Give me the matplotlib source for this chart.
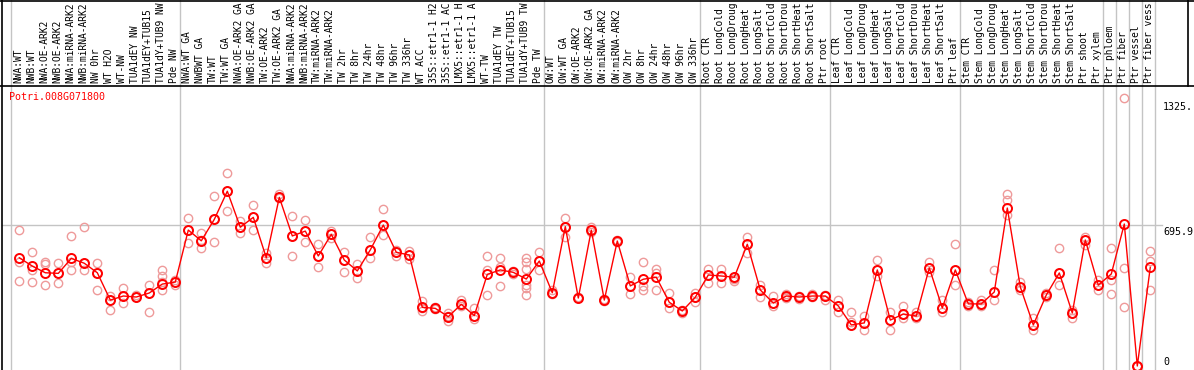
import matplotlib
matplotlib.use("Agg")
import matplotlib.pyplot as plt
from matplotlib.lines import Line2D

GENE = "Potri.008G071800"

# header text as far as it is visible in the original (cut at 14 chars)
LABELS = [
    "NWA:WT", "NWB:WT", "NWA:OE-ARK2", "NWB:OE-ARK2", "NWA:miRNA-ARK2",
    "NWB:miRNA-ARK2", "NW 0hr", "WT H2O", "WT-NW", "TUA1dEY NW",
    "TUA1dEY+TUB15", "TUA1dY+TUB9 NW", "Pde NW",
    "NWA:WT GA", "NWBWT GA", "TW:WT", "TW:WT GA", "NWA:OE-ARK2 GA",
    "NWB:OE-ARK2 GA", "TW:OE-ARK2", "TW:OE-ARK2 GA", "NWA:miRNA-ARK2",
    "NWB:miRNA-ARK2", "TW:miRNA-ARK2", "TW:miRNA-ARK2", "TW 2hr", "TW 8hr",
    "TW 24hr", "TW 48hr", "TW 96hr", "TW 336hr", "WT ACC",
    "35S::etr1-1 H2", "35S::etr1-1 AC", "LMX5::etr1-1 H",
    "LMX5::etr1-1 A", "WT-TW", "TUA1dEY TW", "TUA1dEY+TUB15",
    "TUA1dY+TUB9 TW", "Pde TW",
    "OW:WT", "OW:WT GA", "OW:OE-ARK2", "OW:OE-ARK2 GA", "OW:miRNA-ARK2",
    "OW:miRNA-ARK2", "OW 2hr", "OW 8hr", "OW 24hr", "OW 48hr", "OW 96hr",
    "OW 336hr",
    "Root CTR", "Root LongCold", "Root LongDroug", "Root LongHeat",
    "Root LongSalt", "Root ShortCold", "Root ShortDrou", "Root ShortHeat",
    "Root ShortSalt", "Ptr root",
    "Leaf CTR", "Leaf LongCold", "Leaf LongDroug", "Leaf LongHeat",
    "Leaf LongSalt", "Leaf ShortCold", "Leaf ShortDrou", "Leaf ShortHeat",
    "Leaf ShortSalt", "Ptr leaf",
    "Stem CTR", "Stem LongCold", "Stem LongDroug", "Stem LongHeat",
    "Stem LongSalt", "Stem ShortCold", "Stem ShortDrou", "Stem ShortHeat",
    "Stem ShortSalt", "Ptr shoot", "Ptr xylem",
    "Ptr phloem", "Ptr fiber", "Ptr vessel", "Ptr fiber vess",
]

# first sample index (1-based) of every group, plus one past the end
GROUP_STARTS = [1, 14, 42, 54, 64, 74, 85, 86, 87, 88, 89]

MEANS = [
    535, 494, 461, 458, 532, 508, 461, 326, 346, 341, 361, 405, 415,
    672, 619, 725, 864, 686, 735, 535, 834, 643, 667, 544, 651, 524, 470,
    574, 697, 562, 549, 290, 285, 244, 305, 249, 453, 475, 463, 430, 519,
    362, 689, 336, 672, 326, 618, 396, 429, 439, 315, 272, 340,
    450, 445, 439, 602, 376, 311, 346, 341, 346, 346,
    297, 203, 213, 475, 227, 257, 247, 485, 287, 475,
    307, 307, 366, 781, 391, 203, 351, 460, 262, 623, 400,
    455, 702, 0, 488,
]

REPLICATES = [
    [672, 516, 420], [564, 475, 415], [516, 504, 400], [508, 410, 460],
    [644, 475, 514], [689, 475, 509], [508, 376, 460], [346, 277, 326],
    [386, 346, 311], [341, 341, 351], [267, 400, 361], [475, 445, 415, 376],
    [425, 400, 415],
    [730, 607, 672], [656, 582, 623], [840, 615, 727], [953, 768, 865],
    [718, 656, 687], [796, 672, 737], [560, 508, 534], [849, 837, 831],
    [742, 544, 643], [722, 612, 667], [603, 491, 544], [667, 631, 653],
    [565, 466, 524], [504, 434, 470], [636, 532, 574], [776, 648, 697],
    [574, 544, 564], [570, 528, 549], [321, 272, 287], [290, 280, 287],
    [261, 224, 247], [326, 297, 307], [285, 232, 247], [544, 475, 351],
    [532, 491, 396], [470, 453, 465], [532, 516, 478, 400, 384, 351],
    [565, 475, 519],
    [376, 354, 361], [730, 636, 687], [336, 336, 341], [686, 672, 663],
    [326, 331, 321], [618, 623, 613], [439, 354, 396], [513, 396, 376],
    [478, 461, 376], [359, 285, 316], [277, 261, 272], [362, 318, 341],
    [478, 409, 450], [478, 412, 445], [429, 422, 440], [636, 557, 603],
    [400, 343, 376], [346, 311, 297], [356, 341, 336], [346, 331, 341],
    [356, 341, 346], [351, 326, 346],
    [326, 297, 267], [267, 218, 203], [247, 178, 213], [524, 475, 445],
    [178, 227, 267], [297, 257, 237], [267, 237, 247], [514, 485, 465],
    [326, 287, 267], [603, 475, 400],
    [316, 297, 307], [326, 297, 307], [475, 366, 326], [850, 821, 747],
    [415, 391, 376], [237, 203, 178], [361, 341, 351], [583, 460, 400],
    [277, 262, 237], [639, 598, 623], [425, 376, 400],
    [582, 425, 356], [1324, 483, 290], [0, 0, 0], [569, 519, 376],
]

TICK_TEXT = ["1325.", "695.9", "0"]
MID_VALUE = 695.9

W, H = 1194, 370
PX_X0, PX_DX = 19.3, 13.0          # pixel centre of sample 1 and spacing
PX_ZERO, PX_PER_UNIT = 366.0, 268.0 / 1325.0
PX_HEADER = 85.5                   # header / plot divider

MONO = "DejaVu Sans Mono"
RED = "#ff0000"
PINK = "#ee9a9a"
GRID = "#c4c4c4"


def main() -> None:
    fig = plt.figure(figsize=(W / 100, H / 100), dpi=100)
    ax = fig.add_axes([0, 0, 1, 1])
    ax.set_axis_off()

    # full-figure data limits so that pixel layout matches the original
    ax.set_xlim(1 - PX_X0 / PX_DX, 1 + (W - PX_X0) / PX_DX)
    ax.set_ylim(-(H - PX_ZERO) / PX_PER_UNIT, PX_ZERO / PX_PER_UNIT)

    def yv(px):
        return (PX_ZERO - px) / PX_PER_UNIT

    xs = list(range(1, len(LABELS) + 1))

    # group separators
    for g in GROUP_STARTS:
        ax.axvline(g - 8 / PX_DX, color=GRID, lw=1.0, zorder=1)

    # mid reference line
    ax.axhline(MID_VALUE, xmin=2 / W, xmax=1162 / W, color=GRID, lw=1.0,
               zorder=1)

    # frame lines
    ax.add_line(Line2D([1.5 / W, 1.5 / W], [0, 1], transform=ax.transAxes,
                       color="black", lw=1.2))
    ax.add_line(Line2D([0, 1], [1 - 0.5 / H, 1 - 0.5 / H],
                       transform=ax.transAxes, color="black", lw=1.2))
    ax.add_line(Line2D([0, 1], [1 - PX_HEADER / H] * 2,
                       transform=ax.transAxes, color="black", lw=1.2))
    ax.add_line(Line2D([1188 / W] * 2, [1 - PX_HEADER / H, 1],
                       transform=ax.transAxes, color="black", lw=1.2))

    # header labels
    for x, lab in zip(xs, LABELS):
        ax.text(x - 0.1, yv(PX_HEADER - 2.5), lab, rotation=90,
                ha="center", va="bottom", family=MONO, fontsize=6.9,
                color="black")

    # replicates
    for x, reps in zip(xs, REPLICATES):
        ax.plot([x] * len(reps), reps, ls="none", marker="o", ms=6,
                mfc="none", mec=PINK, mew=1.0, zorder=3)

    # mean line
    ax.plot(xs, MEANS, color=RED, lw=1.0, zorder=4)
    ax.plot(xs, MEANS, ls="none", marker="o", ms=6.5, mfc="none",
            mec=RED, mew=1.4, zorder=5)

    # gene title and value labels
    ax.text(1 - (PX_X0 - 9) / PX_DX, yv(97), GENE, color=RED,
            family=MONO, fontsize=7.2, ha="left", va="center")
    for txt, py in zip(TICK_TEXT, [107, 232, 362]):
        ax.text(1 + (1163 - PX_X0) / PX_DX, yv(py), txt, family=MONO,
                fontsize=7.2, ha="left", va="center", color="black")

    fig.savefig("out.png", dpi=100)
    plt.close(fig)


if __name__ == "__main__":
    main()
